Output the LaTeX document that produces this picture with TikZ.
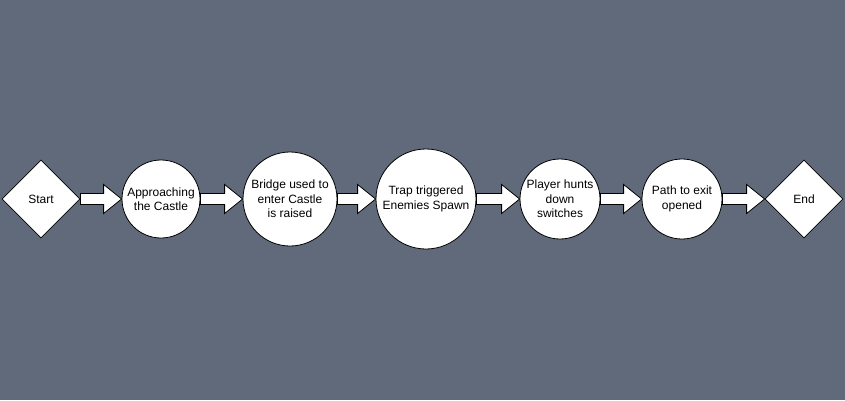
\documentclass[tikz,border=0pt]{standalone}
\usepackage{fontspec}
\setmainfont{Liberation Sans}
\usetikzlibrary{shapes.geometric,calc}
\definecolor{bg}{RGB}{96,106,122}
\tikzset{
  base/.style={draw=black, fill=white, line width=0.8pt, inner sep=0pt, align=center,
    font=\fontsize{12}{14.5}\selectfont},
  term/.style={base, diamond, minimum width=78pt, minimum height=78pt},
  stepcircle/.style={base, circle, minimum size=#1},
  blockarrow/.style={draw=black, fill=white, line width=0.8pt, line join=miter}
}
\newcommand\blockarr[2]{%
  \path[blockarrow] let \p1=(#1.east), \p2=(#2.west) in
    (\x1,\y1+5.5) -- (\x2-18,\y1+5.5) -- (\x2-18,\y1+14.5) -- (\x2,\y1)
    -- (\x2-18,\y1-14.5) -- (\x2-18,\y1-5.5) -- (\x1,\y1-5.5) -- cycle;}
\begin{document}
\begin{tikzpicture}[x=1pt,y=1pt]
\fill[bg] (0,0) rectangle (845,400);
\useasboundingbox (0,0) rectangle (845,400);
\node[term] (start) at (41,201) {Start};
\node[stepcircle=78pt] (c1) at (161,201) {Approaching\\the Castle};
\node[stepcircle=94pt] (c2) at (290,201) {Bridge used to\\enter Castle\\is raised};
\node[stepcircle=100pt] (c3) at (426,201) {Trap triggered\\Enemies Spawn};
\node[stepcircle=80pt] (c4) at (560,201) {Player hunts\\down\\switches};
\node[stepcircle=80pt] (c5) at (682,201) {Path to exit\\opened};
\node[term] (end) at (804,201) {End};
\blockarr{start}{c1}
\blockarr{c1}{c2}
\blockarr{c2}{c3}
\blockarr{c3}{c4}
\blockarr{c4}{c5}
\blockarr{c5}{end}
\end{tikzpicture}
\end{document}
